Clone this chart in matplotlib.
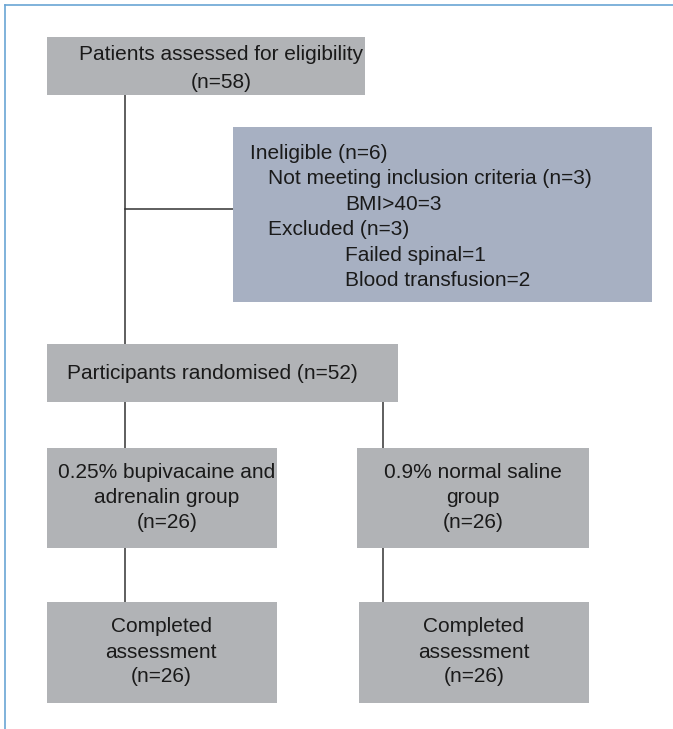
import matplotlib
matplotlib.use('Agg')
import matplotlib.pyplot as plt
from matplotlib.patches import Rectangle

plt.rcParams['font.family'] = ['Liberation Sans', 'DejaVu Sans']

# box texts
assessed = ['Patients assessed for eligibility', '(n=58)']
ineligible = ['Ineligible (n=6)', 'Not meeting inclusion criteria (n=3)', 'BMI>40=3',
              'Excluded (n=3)', 'Failed spinal=1', 'Blood transfusion=2']
ineligible_level = [0, 1, 2, 1, 2, 2]
randomised = ['Participants randomised (n=52)']
group_a = ['0.25% bupivacaine and', 'adrenalin group', '(n=26)']
group_b = ['0.9% normal saline', 'group', '(n=26)']
completed_a = ['Completed', 'assessment', '(n=26)']
completed_b = ['Completed', 'assessment', '(n=26)']

GRAY = '#b1b3b6'
BLUE = '#a7b0c2'
W, H = 673, 729
FS = 15

fig = plt.figure(figsize=(W / 100, H / 100), dpi=100)
ax = fig.add_axes([0, 0, 1, 1])
ax.set_xlim(0, W)
ax.set_ylim(H, 0)
ax.axis('off')

# frame lines (top and left)
ax.plot([5, W], [5, 5], color='#6aa5d4', lw=1.2)
ax.plot([5, 5], [5, H], color='#6aa5d4', lw=1.2)


def box(x0, y0, x1, y1, color=GRAY):
    ax.add_patch(Rectangle((x0, y0), x1 - x0, y1 - y0, color=color, lw=0, zorder=2))


def label(tx, ty, lines, step=25, align='center'):
    for i, s in enumerate(lines):
        ax.text(tx, ty + i * step, s, ha=align, va='center', fontsize=FS,
                color='#1a1a1a', zorder=3)


def line(x0, y0, x1, y1):
    ax.plot([x0, x1], [y0, y1], color='#333333', lw=1.1, zorder=1)


# connectors
line(125, 95, 125, 344)
line(125, 209, 233, 209)
line(125, 402, 125, 448)
line(383, 402, 383, 448)
line(125, 548, 125, 602)
line(383, 548, 383, 602)

box(47, 37, 365, 95)
label(221, 54, assessed, step=28)

box(233, 127, 652, 302, color=BLUE)
indent = [250, 268, 345]
for i, (s, lv) in enumerate(zip(ineligible, ineligible_level)):
    label(indent[lv], 153 + i * 25.5, [s], align='left')

box(47, 344, 398, 402)
label(67, 373, randomised, align='left')

box(47, 448, 277, 548)
label(167, 472, group_a)
box(357, 448, 589, 548)
label(473, 472, group_b)

box(47, 602, 277, 703)
label(161, 627, completed_a)
box(359, 602, 589, 703)
label(474, 627, completed_b)

fig.savefig('out.png', dpi=100)
